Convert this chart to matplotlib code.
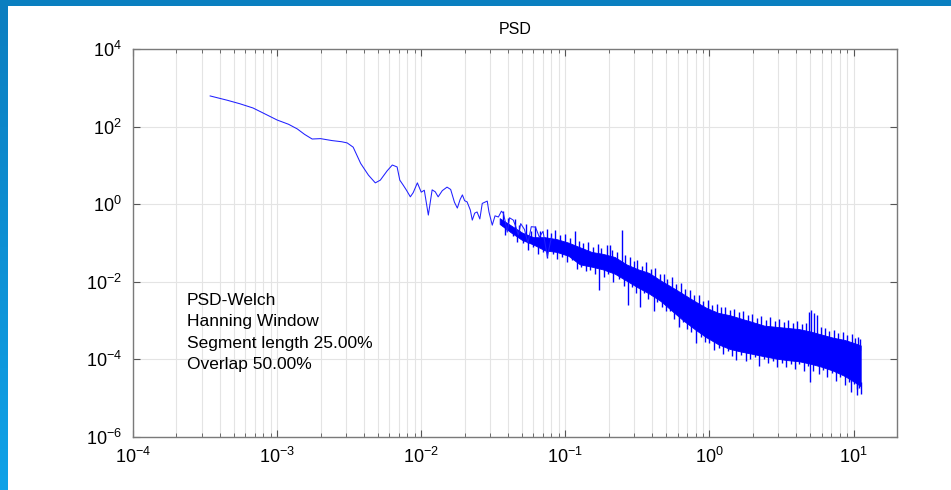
import numpy as np
import matplotlib
matplotlib.use("Agg")
import matplotlib.pyplot as plt
from matplotlib.patches import Rectangle
from matplotlib.colors import LinearSegmentedColormap
from matplotlib.ticker import LogLocator, NullLocator, NullFormatter

plt.rcParams['font.family'] = ['Liberation Sans', 'DejaVu Sans']
plt.rcParams['mathtext.fontset'] = 'custom'
plt.rcParams['mathtext.rm'] = 'Liberation Sans'
plt.rcParams['mathtext.it'] = 'Liberation Sans:italic'

# low frequency part of the Welch estimate (Hz, dB)
freq_low = [3.43e-4, 4.5e-4, 5.5e-4, 6.8e-4, 8.2e-4, 1.0e-3, 1.2e-3, 1.38e-3, 1.55e-3, 1.75e-3,
            2.0e-3, 2.4e-3, 2.8e-3, 3.06e-3, 3.37e-3, 3.8e-3, 4.3e-3, 4.8e-3, 5.2e-3, 5.8e-3,
            6.3e-3, 6.8e-3, 7.1e-3, 7.5e-3, 7.9e-3, 8.4e-3, 8.8e-3, 9.4e-3, 1.0e-2, 1.05e-2,
            1.12e-2, 1.19e-2, 1.25e-2, 1.31e-2, 1.4e-2, 1.51e-2, 1.6e-2, 1.7e-2, 1.78e-2, 1.86e-2,
            1.93e-2, 2.0e-2, 2.08e-2, 2.19e-2, 2.26e-2, 2.35e-2, 2.44e-2, 2.55e-2, 2.65e-2, 2.87e-2,
            2.95e-2, 3.11e-2, 3.25e-2, 3.43e-2, 3.6e-2, 3.71e-2, 3.83e-2, 3.95e-2, 4.1e-2, 4.35e-2,
            4.5e-2, 4.72e-2, 4.9e-2, 5.2e-2, 5.5e-2, 5.8e-2, 6.2e-2, 6.6e-2, 7.0e-2, 7.5e-2, 8.0e-2]
psd_low_db = [27.9, 26.8, 25.9, 24.8, 23.3, 21.7, 20.6, 19.4, 18.0, 16.8,
              16.9, 16.4, 16.1, 15.8, 14.7, 10.5, 7.5, 5.5, 6.2, 8.6,
              10.1, 9.6, 6.2, 4.9, 3.6, 1.9, 3.0, 5.5, 3.1, 3.6,
              -2.8, 3.7, 3.2, 1.9, 3.5, 4.4, 3.8, 0.5, -1.0, 1.2,
              2.4, 0.9, 0.6, -1.5, -4.1, -2.3, -2.0, -3.8, 0.2, 0.8,
              -2.0, -5.4, -3.0, -3.3, -1.8, -2.3, -4.5, -7.2, -3.5, -4.1,
              -5.5, -7.9, -5.0, -6.5, -10.0, -5.8, -5.9, -8.5, -7.0, -13.6, -8.5]

# dense part: solid core of the noisy band (Hz, dB)
freq_band = [0.035, 0.042, 0.05, 0.06, 0.072, 0.087, 0.105, 0.126, 0.152, 0.182,
             0.22, 0.265, 0.32, 0.38, 0.46, 0.55, 0.66, 0.79, 0.95, 1.15,
             1.38, 1.66, 2.0, 2.4, 2.9, 3.5, 4.2, 5.0, 6.0, 7.2,
             8.7, 10.5, 11.2]
band_hi_db = [-3.6, -5.5, -7.3, -8.5, -8.5, -9.0, -9.9, -11.1, -12.3, -12.8,
              -13.6, -15.5, -16.8, -17.7, -19.7, -21.4, -23.2, -25.0, -26.7, -28.0,
              -28.6, -29.5, -30.4, -31.3, -31.6, -31.9, -32.2, -32.8, -33.6, -34.4,
              -35.0, -36.0, -36.4]
band_lo_db = [-5.1, -7.3, -9.2, -10.4, -11.9, -12.3, -13.3, -15.5, -16.1, -16.8,
              -17.9, -19.7, -21.5, -23.0, -25.0, -27.5, -30.0, -32.2, -34.3, -36.1,
              -37.3, -38.0, -38.6, -39.2, -39.8, -40.2, -40.5, -41.1, -41.9, -42.9,
              -44.3, -46.2, -46.9]

# bins reaching above the core (Hz, dB)
freq_up = [0.037, 0.040, 0.045, 0.048, 0.053, 0.058, 0.062, 0.067, 0.074, 0.079,
           0.085, 0.092, 0.099, 0.108, 0.116, 0.124, 0.133, 0.143, 0.156, 0.168,
           0.178, 0.193, 0.205, 0.212, 0.228, 0.248, 0.26, 0.28, 0.30, 0.315,
           0.34, 0.36, 0.39, 0.42, 0.45, 0.48, 0.51, 0.55, 0.59, 0.63,
           0.68, 0.73, 0.78, 0.84, 0.90, 0.97, 1.04, 1.12, 1.20, 1.29,
           1.39, 1.49, 1.60, 1.72, 1.85, 1.98, 2.13, 2.29, 2.46, 2.64,
           2.84, 3.05, 3.28, 3.52, 3.78, 4.06, 4.36, 4.68, 4.90, 5.10,
           5.35, 5.60, 5.90, 6.30, 6.80, 7.30, 7.80, 8.40, 9.00, 9.70,
           10.3, 10.8, 11.1]
up_tip_db = [-1.8, -3.6, -3.9, -5.4, -5.0, -6.9, -5.6, -7.0, -6.3, -7.4,
             -6.6, -7.9, -7.6, -8.7, -7.0, -9.4, -9.9, -9.8, -11.0, -10.2,
             -11.3, -10.5, -10.5, -11.9, -12.2, -6.6, -13.2, -13.6, -14.6, -14.3,
             -15.8, -15.0, -16.6, -16.4, -18.0, -17.9, -19.3, -18.8, -20.6, -20.4,
             -21.9, -22.0, -23.4, -23.4, -24.9, -24.6, -25.9, -25.6, -26.5, -26.4,
             -27.2, -26.9, -27.9, -27.4, -28.6, -28.2, -29.3, -28.9, -29.9, -29.2,
             -30.2, -29.6, -30.4, -29.9, -30.7, -30.0, -30.8, -30.5, -27.8, -27.2,
             -28.0, -28.6, -31.6, -31.9, -32.6, -32.3, -33.2, -32.9, -33.8, -33.5,
             -34.5, -34.2, -34.8]
up_base_db = [-5.5, -6.2, -7.4, -8.0, -8.9, -9.5, -9.7, -9.7, -9.8, -9.9,
              -10.1, -10.4, -10.8, -11.2, -11.7, -12.2, -12.6, -13.1, -13.6, -13.8,
              -14.0, -14.2, -14.5, -14.6, -15.1, -15.7, -16.5, -17.1, -17.5, -17.9,
              -18.4, -18.6, -19.2, -19.9, -20.6, -21.3, -21.9, -22.6, -23.2, -23.9,
              -24.7, -25.5, -26.1, -26.8, -27.4, -28.0, -28.5, -29.0, -29.3, -29.5,
              -29.8, -30.2, -30.5, -30.9, -31.2, -31.6, -31.9, -32.2, -32.5, -32.6,
              -32.8, -32.9, -33.0, -33.1, -33.2, -33.3, -33.5, -33.8, -33.9, -34.0,
              -34.2, -34.4, -34.7, -35.0, -35.3, -35.6, -35.9, -36.1, -36.4, -36.8,
              -37.1, -37.4, -37.6]

# bins reaching below the core (Hz, dB)
freq_dn = [0.038, 0.043, 0.046, 0.051, 0.055, 0.060, 0.065, 0.070, 0.075, 0.082,
           0.088, 0.095, 0.103, 0.112, 0.120, 0.128, 0.138, 0.148, 0.160, 0.170,
           0.185, 0.198, 0.215, 0.235, 0.255, 0.27, 0.29, 0.31, 0.33, 0.35,
           0.375, 0.41, 0.435, 0.465, 0.50, 0.53, 0.57, 0.61, 0.65, 0.70,
           0.75, 0.80, 0.87, 0.93, 1.00, 1.08, 1.16, 1.25, 1.34, 1.44,
           1.52, 1.66, 1.78, 1.92, 2.06, 2.21, 2.37, 2.55, 2.74, 2.94,
           3.16, 3.40, 3.65, 3.92, 4.21, 4.52, 4.80, 5.00, 5.25, 5.75,
           6.10, 6.55, 7.05, 7.55, 8.10, 8.70, 9.30, 9.60, 10.0, 10.5,
           10.6, 10.95, 11.2]
dn_tip_db = [-8.0, -8.2, -9.8, -10.0, -11.8, -11.0, -12.8, -12.2, -13.8, -12.9,
             -14.2, -13.6, -14.9, -14.5, -16.6, -16.2, -17.2, -16.9, -18.1, -22.1,
             -18.8, -17.9, -20.0, -19.3, -21.2, -26.0, -21.3, -22.8, -26.5, -23.0,
             -24.4, -27.5, -25.1, -26.6, -27.4, -27.4, -29.6, -31.6, -30.4, -32.2,
             -33.0, -35.8, -34.1, -35.6, -35.7, -37.5, -37.0, -38.5, -37.8, -39.0,
             -40.2, -38.8, -40.5, -40.0, -39.5, -41.8, -40.0, -41.0, -40.4, -42.0,
             -40.8, -42.0, -41.1, -42.5, -41.3, -43.0, -41.8, -45.8, -42.9, -43.8,
             -42.8, -44.5, -43.6, -45.5, -44.6, -46.5, -45.7, -48.5, -46.4, -47.5,
             -49.3, -47.4, -48.8]
dn_base_db = [-4.8, -6.3, -7.0, -8.1, -8.6, -9.2, -9.7, -10.3, -10.8, -10.9,
              -11.1, -11.6, -12.0, -12.5, -13.0, -14.3, -14.6, -14.8, -15.0, -15.2,
              -15.6, -16.0, -16.5, -17.3, -18.1, -18.6, -19.3, -19.9, -20.6, -21.1,
              -21.7, -22.6, -23.2, -23.9, -24.7, -25.4, -26.4, -27.4, -28.4, -29.5,
              -30.5, -31.1, -32.1, -32.9, -33.7, -34.4, -35.0, -35.4, -35.8, -36.2,
              -36.4, -36.8, -37.0, -37.3, -37.5, -37.7, -38.0, -38.2, -38.4, -38.6,
              -38.8, -38.9, -39.1, -39.2, -39.3, -39.6, -39.8, -39.9, -40.1, -40.5,
              -40.8, -41.2, -41.6, -42.1, -42.6, -43.1, -43.7, -44.0, -44.4, -45.0,
              -45.1, -45.4, -45.7]

x_ticks = [1e-4, 1e-3, 1e-2, 1e-1, 1e0, 1e1]
y_ticks = [1e-6, 1e-4, 1e-2, 1e0, 1e2, 1e4]
info_lines = ['PSD-Welch', 'Hanning Window', 'Segment length 25.00%', 'Overlap 50.00%']


def db_to_power(db):
    return 10.0 ** (np.asarray(db) / 10.0)


fig = plt.figure(figsize=(9.51, 4.90), dpi=100)
fig.patch.set_facecolor('white')

# slide frame: blue bar on top and gradient strip on the left
fig.add_artist(Rectangle((0, 1 - 6 / 490), 1, 6 / 490, transform=fig.transFigure,
                         color='#0a7fc0', lw=0, zorder=0))
strip = fig.add_axes([0, 0, 8 / 951, 1 - 6 / 490])
strip.imshow(np.linspace(0, 1, 256).reshape(-1, 1), aspect='auto',
             cmap=LinearSegmentedColormap.from_list('strip', ['#0b7ec0', '#0fa2e8']))
strip.set_axis_off()

ax = fig.add_axes([133 / 951, 1 - 437 / 490, 764 / 951, 388 / 490])

ax.fill_between(freq_band, db_to_power(band_lo_db), db_to_power(band_hi_db),
                color='blue', lw=0.6, zorder=3)
ax.vlines(freq_up, db_to_power(up_base_db), db_to_power(up_tip_db), color='blue', lw=1.0, zorder=3)
ax.vlines(freq_dn, db_to_power(dn_tip_db), db_to_power(dn_base_db), color='blue', lw=1.0, zorder=3)
ax.plot(freq_low, db_to_power(psd_low_db), color='#2020ff', lw=0.75, zorder=4)

ax.set_xscale('log')
ax.set_yscale('log')
ax.set_xlim(1e-4, 20)
ax.set_ylim(1e-6, 1e4)
ax.set_xticks(x_ticks)
ax.set_yticks(y_ticks)
ax.xaxis.set_minor_locator(LogLocator(base=10, subs=np.arange(2, 10), numticks=20))
ax.xaxis.set_minor_formatter(NullFormatter())
ax.yaxis.set_minor_locator(NullLocator())

ax.grid(True, which='major', axis='both', color='#e4e4e4', lw=0.8)
ax.grid(True, which='minor', axis='x', color='#e4e4e4', lw=0.8)
ax.set_axisbelow(True)

ax.tick_params(which='both', direction='in', top=True, right=True, color='#555555')
ax.tick_params(which='major', length=5, width=0.8)
ax.tick_params(which='minor', length=3, width=0.6)
ax.tick_params(axis='x', labelsize=13, pad=7)
ax.tick_params(axis='y', labelsize=13, pad=8)
for spine in ax.spines.values():
    spine.set_color('#7a7a7a')
    spine.set_linewidth(1.0)

ax.set_title('PSD', fontsize=11.5, pad=11)
ax.text(0.0707, 0.372, '\n'.join(info_lines), transform=ax.transAxes,
        fontsize=12.5, va='top', ha='left', linespacing=1.55)

fig.savefig('out.png', dpi=100)
